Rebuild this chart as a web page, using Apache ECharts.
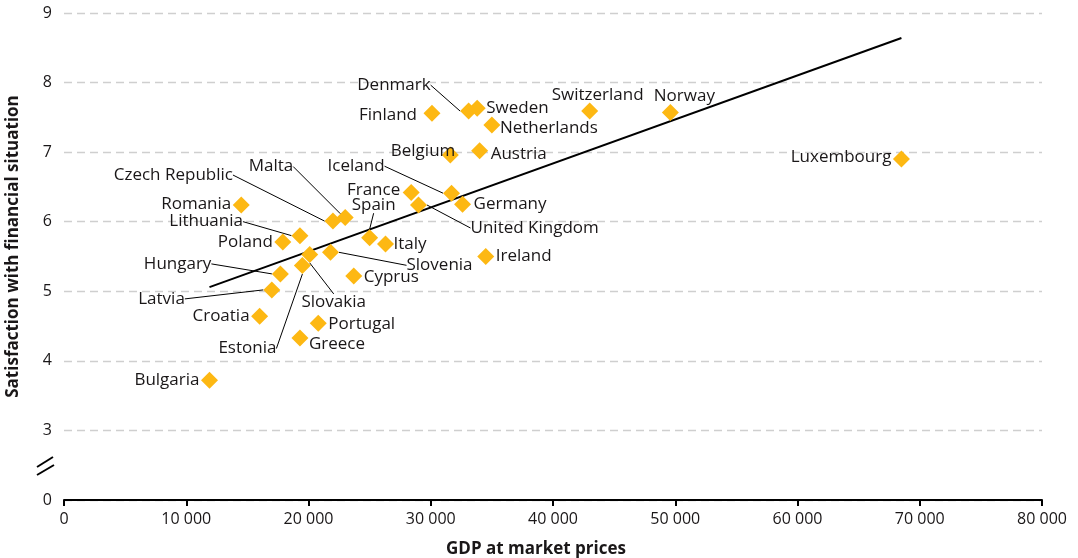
<!DOCTYPE html>
<html><head><meta charset="utf-8">
<script src="https://cdn.jsdelivr.net/npm/echarts@6/dist/echarts.min.js"></script>
<style>html,body{margin:0;padding:0;background:#fff}#c{width:1078px;height:558px}</style>
</head><body><div id="c"></div>
<script>
const countries = ['Bulgaria','Croatia','Latvia','Hungary','Estonia','Slovakia','Slovenia','Cyprus','Portugal','Greece','Poland','Lithuania','Romania','Czech Republic','Malta','Spain','Italy','France','United Kingdom','Iceland','Germany','Belgium','Austria','Finland','Denmark','Sweden','Netherlands','Switzerland','Norway','Luxembourg','Ireland'];
const gdp = [11900,16000,17000,17700,19500,20100,21800,23700,20800,19300,17900,19300,14500,22000,23000,25000,26300,28400,29000,31700,32600,31600,34000,30100,33100,33800,35000,43000,49600,68500,34500];
const satisfaction = [3.72,4.64,5.02,5.25,5.37,5.53,5.56,5.22,4.54,4.33,5.71,5.80,6.24,6.01,6.06,5.77,5.68,6.42,6.24,6.41,6.25,6.96,7.02,7.56,7.59,7.63,7.39,7.59,7.57,6.90,5.50];
const trendGdp = [11900,68500];
const trendSat = [5.06,8.64];
const yTickLabels = ['0','3','4','5','6','7','8','9'];
const xTickLabels = ['0','10 000','20 000','30 000','40 000','50 000','60 000','70 000','80 000'];

// label placement: offset from point centre [dx, dy, align, leaderLine]
const labelCfg = {
 'Bulgaria':[-10,0,'right',0],'Croatia':[-10,0,'right',0],'Latvia':[-87,9,'right',1],
 'Hungary':[-69,-10,'right',1],'Estonia':[-55,83,'center',1],'Slovakia':[24,48,'center',1],
 'Slovenia':[76,13,'left',1],'Cyprus':[10,1,'left',0],'Portugal':[10,1,'left',0],
 'Greece':[9,6,'left',0],'Poland':[-10,0,'right',0],'Lithuania':[-57,-14,'right',1],
 'Romania':[-10,-1,'right',0],'Czech Republic':[-100,-46,'right',1],'Malta':[-52,-51,'right',1],
 'Spain':[4,-33,'center',1],'Italy':[8,0,'left',0],'France':[-11,-2,'right',0],
 'United Kingdom':[52,23,'left',1],'Iceland':[-67,-27,'right',1],'Germany':[11,0,'left',0],
 'Belgium':[5,-4,'right',0],'Austria':[11,3,'left',0],'Finland':[-15,2,'right',0],
 'Denmark':[-38,-26,'right',1],'Sweden':[9,0,'left',0],'Netherlands':[8,3,'left',0],
 'Switzerland':[8,-16,'center',0],'Norway':[14,-16,'center',0],'Luxembourg':[-10,-2,'right',0],
 'Ireland':[10,0,'left',0]
};

// y axis has a break between 0 and 3: values >= 3 are shifted down by 2
const ty = v => v - 2;
const FONT = 'Open Sans';
const TXT = '#1a1718';

const chart = echarts.init(document.getElementById('c'));
chart.setOption({
  animation:false,
  grid:{left:64,right:36,top:13,bottom:58,outerBoundsMode:'none',containLabel:false},
  xAxis:{type:'value',min:0,max:80000,interval:10000,
    name:'GDP at market prices',nameLocation:'middle',nameGap:41,
    nameTextStyle:{fontFamily:FONT,fontWeight:'bold',fontSize:17,color:TXT,padding:[0,34,0,0]},
    axisLine:{show:true,onZero:false,lineStyle:{color:'#000',width:2}},
    axisTick:{show:true,length:6,lineStyle:{color:'#000',width:2}},
    axisLabel:{fontFamily:FONT,fontSize:16,color:TXT,margin:11,formatter:(v)=>xTickLabels[Math.round(v/10000)]},
    splitLine:{show:false}},
  yAxis:{type:'value',min:0,max:7,interval:1,
    name:'Satisfaction with financial situation',nameLocation:'middle',nameGap:42,
    nameTextStyle:{fontFamily:FONT,fontWeight:'bold',fontSize:17,color:TXT,padding:[0,0,0,20]},
    axisLine:{show:false},axisTick:{show:false},
    axisLabel:{fontFamily:FONT,fontSize:16,color:TXT,margin:12,formatter:(v)=>yTickLabels[v]},
    splitLine:{show:true,lineStyle:{color:'#cfcfcf',type:[8,5],width:1.3}}},
  graphic:[
    {type:'line',shape:{x1:37,y1:467,x2:53,y2:457},style:{stroke:'#000',lineWidth:2}},
    {type:'line',shape:{x1:37,y1:475,x2:54,y2:465},style:{stroke:'#000',lineWidth:2}}
  ],
  series:[
    {type:'line',data:trendGdp.map((g,i)=>[g,ty(trendSat[i])]),showSymbol:false,symbol:'none',
     lineStyle:{color:'#000',width:2},z:3,silent:true},
    {type:'scatter',symbol:'diamond',symbolSize:17,z:4,
     itemStyle:{color:'#fdb813',opacity:1},
     data:countries.map((n,i)=>({name:n,value:[gdp[i],ty(satisfaction[i])],
        labelLine:{show:!!labelCfg[n][3]}})),
     label:{show:true,formatter:'{b}',fontFamily:FONT,fontSize:17,color:TXT},
     labelLine:{show:false,lineStyle:{color:'#000',width:1}},
     labelLayout:function(p){
       const c = labelCfg[countries[p.dataIndex]];
       const r = p.rect;
       return {x:r.x+r.width/2+c[0], y:r.y+r.height/2+c[1], align:c[2], verticalAlign:'middle'};
     }}
  ]
});
</script></body></html>
